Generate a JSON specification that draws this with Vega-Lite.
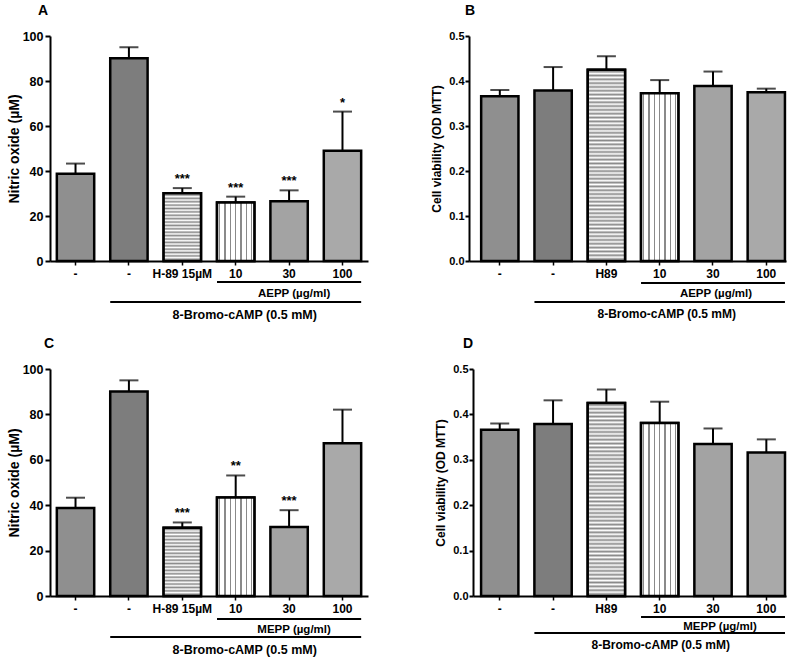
{
  "$schema": "https://vega.github.io/schema/vega-lite/v6.json",
  "background": "white",
  "padding": {"left": 7, "top": 4, "right": 0, "bottom": 0},
  "config": {
    "view": {"stroke": null},
    "font": "Liberation Sans",
    "title": {"fontSize": 14, "fontWeight": "bold", "font": "Liberation Sans", "color": "black"},
    "axis": {"domainColor": "black", "domainWidth": 2, "tickColor": "black", "tickWidth": 2, "tickSize": 5, "labelColor": "black", "labelFontWeight": "bold", "labelFontSize": 12, "labelFont": "Liberation Sans", "titleFont": "Liberation Sans", "titleFontWeight": "bold", "titleColor": "black", "grid": false, "labelPadding": 2, "titlePadding": 1},
    "axisX": {"tickSize": 4, "tickWidth": 1.5, "labelAngle": 0, "labelOverlap": false, "labelBound": false, "labelPadding": 3}
  },
  "datasets": {
    "a": [
      {"c": "1", "v": 38.8, "hi": 43.3, "sig": ""},
      {"c": "2", "v": 90.1, "hi": 95.0, "sig": ""},
      {"c": "3", "v": 30.1, "hi": 32.4, "sig": "***"},
      {"c": "4", "v": 26.0, "hi": 28.6, "sig": "***"},
      {"c": "5", "v": 26.6, "hi": 31.4, "sig": "***"},
      {"c": "6", "v": 49.0, "hi": 66.4, "sig": "*"}
    ],
    "b": [
      {"c": "1", "v": 0.366, "hi": 0.380},
      {"c": "2", "v": 0.379, "hi": 0.431},
      {"c": "3", "v": 0.425, "hi": 0.455},
      {"c": "4", "v": 0.373, "hi": 0.402},
      {"c": "5", "v": 0.389, "hi": 0.421},
      {"c": "6", "v": 0.375, "hi": 0.383}
    ],
    "c": [
      {"c": "1", "v": 38.8, "hi": 43.3, "sig": ""},
      {"c": "2", "v": 90.1, "hi": 95.0, "sig": ""},
      {"c": "3", "v": 30.1, "hi": 32.4, "sig": "***"},
      {"c": "4", "v": 43.4, "hi": 53.1, "sig": "**"},
      {"c": "5", "v": 30.4, "hi": 37.8, "sig": "***"},
      {"c": "6", "v": 67.3, "hi": 82.1, "sig": ""}
    ],
    "d": [
      {"c": "1", "v": 0.366, "hi": 0.380},
      {"c": "2", "v": 0.379, "hi": 0.431},
      {"c": "3", "v": 0.425, "hi": 0.455},
      {"c": "4", "v": 0.381, "hi": 0.428},
      {"c": "5", "v": 0.335, "hi": 0.369},
      {"c": "6", "v": 0.316, "hi": 0.345}
    ],
    "annAEPP": [
      {"level": 1, "from": "4", "to": "6", "mid": "5", "label": "AEPP (µg/ml)"},
      {"level": 2, "from": "2", "to": "6", "mid": "4", "label": "8-Bromo-cAMP (0.5 mM)"}
    ],
    "annMEPP": [
      {"level": 1, "from": "4", "to": "6", "mid": "5", "label": "MEPP (µg/ml)"},
      {"level": 2, "from": "2", "to": "6", "mid": "4", "label": "8-Bromo-cAMP (0.5 mM)"}
    ]
  },
  "spacing": 15,
  "vconcat": [
    {
      "spacing": 62,
      "hconcat": [
        {
          "width": 318, "height": 225,
          "title": {"text": "A", "anchor": "start", "frame": "group", "dx": -12, "offset": 12},
          "resolve": {"scale": {"y": "independent"}},
          "layer": [
            {
              "data": {"name": "a"},
              "encoding": {
                "x": {"field": "c", "type": "nominal", "scale": {"domain": ["1", "2", "3", "4", "5", "6"], "paddingInner": 0.3, "paddingOuter": 0.128}, "axis": {"title": null, "labelFontSize": 12, "labelExpr": "datum.value == '3' ? 'H-89 15µM' : datum.value == '4' ? '10' : datum.value == '5' ? '30' : datum.value == '6' ? '100' : '-'"}},
                "y": {"field": "v", "type": "quantitative", "scale": {"domain": [0, 100], "nice": false}, "axis": {"title": "Nitric oxide (µM)", "values": [0, 20, 40, 60, 80, 100], "titleFontSize": 14, "labelFontSize": 12.5}}
              },
              "layer": [
                {"mark": {"type": "bar", "stroke": "black", "strokeWidth": 2.5}, "encoding": {"fill": {"field": "c", "type": "nominal", "scale": {"domain": ["1", "2", "3", "4", "5", "6"], "range": ["#8f8f8f", "#7d7d7d", "#cfcfcf", "#e0e0e0", "#a3a3a3", "#a9a9a9"]}, "legend": null}}},
                {"transform": [{"filter": "datum.c == '3'"}], "mark": {"type": "bar", "stroke": "black", "strokeWidth": 2.5, "fill": {"gradient": "linear", "x1": 0, "y1": 0, "x2": 0, "y2": 1, "stops": [
                  {"offset": 0, "color": "#ffffff"}, {"offset": 0.025, "color": "#8a8a8a"}, {"offset": 0.05, "color": "#ffffff"}, {"offset": 0.075, "color": "#8a8a8a"},
                  {"offset": 0.1, "color": "#ffffff"}, {"offset": 0.125, "color": "#8a8a8a"}, {"offset": 0.15, "color": "#ffffff"}, {"offset": 0.175, "color": "#8a8a8a"},
                  {"offset": 0.2, "color": "#ffffff"}, {"offset": 0.225, "color": "#8a8a8a"}, {"offset": 0.25, "color": "#ffffff"}, {"offset": 0.275, "color": "#8a8a8a"},
                  {"offset": 0.3, "color": "#ffffff"}, {"offset": 0.325, "color": "#8a8a8a"}, {"offset": 0.35, "color": "#ffffff"}, {"offset": 0.375, "color": "#8a8a8a"},
                  {"offset": 0.4, "color": "#ffffff"}, {"offset": 0.425, "color": "#8a8a8a"}, {"offset": 0.45, "color": "#ffffff"}, {"offset": 0.475, "color": "#8a8a8a"},
                  {"offset": 0.5, "color": "#ffffff"}, {"offset": 0.525, "color": "#8a8a8a"}, {"offset": 0.55, "color": "#ffffff"}, {"offset": 0.575, "color": "#8a8a8a"},
                  {"offset": 0.6, "color": "#ffffff"}, {"offset": 0.625, "color": "#8a8a8a"}, {"offset": 0.65, "color": "#ffffff"}, {"offset": 0.675, "color": "#8a8a8a"},
                  {"offset": 0.7, "color": "#ffffff"}, {"offset": 0.725, "color": "#8a8a8a"}, {"offset": 0.75, "color": "#ffffff"}, {"offset": 0.775, "color": "#8a8a8a"},
                  {"offset": 0.8, "color": "#ffffff"}, {"offset": 0.825, "color": "#8a8a8a"}, {"offset": 0.85, "color": "#ffffff"}, {"offset": 0.875, "color": "#8a8a8a"},
                  {"offset": 0.9, "color": "#ffffff"}, {"offset": 0.925, "color": "#8a8a8a"}, {"offset": 0.95, "color": "#ffffff"}, {"offset": 0.975, "color": "#8a8a8a"},
                  {"offset": 1, "color": "#ffffff"}]}}},
                {"transform": [{"filter": "datum.c == '4'"}], "mark": {"type": "bar", "stroke": "black", "strokeWidth": 2.5, "fill": {"gradient": "linear", "x1": 0, "y1": 0, "x2": 1, "y2": 0, "stops": [
                  {"offset": 0, "color": "#ffffff"}, {"offset": 0.055, "color": "#ffffff"}, {"offset": 0.055, "color": "#8a8a8a"}, {"offset": 0.087, "color": "#8a8a8a"}, {"offset": 0.087, "color": "#ffffff"},
                  {"offset": 0.198, "color": "#ffffff"}, {"offset": 0.198, "color": "#8a8a8a"}, {"offset": 0.23, "color": "#8a8a8a"}, {"offset": 0.23, "color": "#ffffff"},
                  {"offset": 0.341, "color": "#ffffff"}, {"offset": 0.341, "color": "#8a8a8a"}, {"offset": 0.373, "color": "#8a8a8a"}, {"offset": 0.373, "color": "#ffffff"},
                  {"offset": 0.484, "color": "#ffffff"}, {"offset": 0.484, "color": "#8a8a8a"}, {"offset": 0.516, "color": "#8a8a8a"}, {"offset": 0.516, "color": "#ffffff"},
                  {"offset": 0.627, "color": "#ffffff"}, {"offset": 0.627, "color": "#8a8a8a"}, {"offset": 0.659, "color": "#8a8a8a"}, {"offset": 0.659, "color": "#ffffff"},
                  {"offset": 0.77, "color": "#ffffff"}, {"offset": 0.77, "color": "#8a8a8a"}, {"offset": 0.802, "color": "#8a8a8a"}, {"offset": 0.802, "color": "#ffffff"},
                  {"offset": 0.913, "color": "#ffffff"}, {"offset": 0.913, "color": "#8a8a8a"}, {"offset": 0.945, "color": "#8a8a8a"}, {"offset": 0.945, "color": "#ffffff"},
                  {"offset": 1, "color": "#ffffff"}]}}},
                {"mark": {"type": "rule", "strokeWidth": 2, "color": "black"}, "encoding": {"y2": {"field": "hi"}}},
                {"mark": {"type": "tick", "size": 19, "thickness": 2, "color": "black"}, "encoding": {"y": {"field": "hi", "type": "quantitative"}}},
                {"mark": {"type": "text", "fontSize": 13, "fontWeight": "bold", "baseline": "alphabetic", "dy": -5, "color": "black"}, "encoding": {"y": {"field": "hi", "type": "quantitative"}, "text": {"field": "sig"}}}
              ]
            },
            {
              "data": {"name": "annAEPP"},
              "layer": [
                {"mark": {"type": "rule", "strokeWidth": 2, "color": "black"}, "encoding": {"x": {"field": "from", "type": "nominal", "bandPosition": 0}, "x2": {"field": "to", "bandPosition": 1}, "y": {"field": "level", "type": "quantitative", "scale": {"domain": [1, 2], "range": [246, 266], "nice": false, "zero": false}, "axis": null}}},
                {"transform": [{"filter": "datum.level == 1"}], "mark": {"type": "text", "fontSize": 11.5, "fontWeight": "bold", "baseline": "middle", "dy": 12, "dx": 5, "color": "black"}, "encoding": {"x": {"field": "mid", "type": "nominal"}, "y": {"field": "level", "type": "quantitative", "axis": null}, "text": {"field": "label"}}},
                {"transform": [{"filter": "datum.level == 2"}], "mark": {"type": "text", "fontSize": 12.5, "fontWeight": "bold", "baseline": "middle", "dy": 13, "dx": 9, "color": "black"}, "encoding": {"x": {"field": "mid", "type": "nominal"}, "y": {"field": "level", "type": "quantitative", "axis": null}, "text": {"field": "label"}}}
              ]
            }
          ]
        },
        {
          "width": 317, "height": 225,
          "title": {"text": "B", "anchor": "start", "frame": "group", "dx": -4, "offset": 12},
          "resolve": {"scale": {"y": "independent"}},
          "layer": [
            {
              "data": {"name": "b"},
              "encoding": {
                "x": {"field": "c", "type": "nominal", "scale": {"domain": ["1", "2", "3", "4", "5", "6"], "paddingInner": 0.3, "paddingOuter": 0.124, "align": 0.92}, "axis": {"title": null, "labelFontSize": 12, "labelExpr": "datum.value == '3' ? 'H89' : datum.value == '4' ? '10' : datum.value == '5' ? '30' : datum.value == '6' ? '100' : '-'"}},
                "y": {"field": "v", "type": "quantitative", "scale": {"domain": [0, 0.5], "nice": false}, "axis": {"title": "Cell viability (OD MTT)", "values": [0, 0.1, 0.2, 0.3, 0.4, 0.5], "format": ".1f", "titleFontSize": 12, "labelFontSize": 11, "tickSize": 4, "labelPadding": 1, "titlePadding": 5}}
              },
              "layer": [
                {"mark": {"type": "bar", "stroke": "black", "strokeWidth": 2.5}, "encoding": {"fill": {"field": "c", "type": "nominal", "scale": {"domain": ["1", "2", "3", "4", "5", "6"], "range": ["#8f8f8f", "#7d7d7d", "#cfcfcf", "#e0e0e0", "#a3a3a3", "#a9a9a9"]}, "legend": null}}},
                {"transform": [{"filter": "datum.c == '3'"}], "mark": {"type": "bar", "stroke": "black", "strokeWidth": 2.5, "fill": {"gradient": "linear", "x1": 0, "y1": 0, "x2": 0, "y2": 1, "stops": [
                  {"offset": 0, "color": "#ffffff"}, {"offset": 0.01, "color": "#8a8a8a"}, {"offset": 0.02, "color": "#ffffff"}, {"offset": 0.03, "color": "#8a8a8a"}, {"offset": 0.04, "color": "#ffffff"},
                  {"offset": 0.05, "color": "#8a8a8a"}, {"offset": 0.06, "color": "#ffffff"}, {"offset": 0.07, "color": "#8a8a8a"}, {"offset": 0.08, "color": "#ffffff"}, {"offset": 0.09, "color": "#8a8a8a"},
                  {"offset": 0.1, "color": "#ffffff"}, {"offset": 0.11, "color": "#8a8a8a"}, {"offset": 0.12, "color": "#ffffff"}, {"offset": 0.13, "color": "#8a8a8a"}, {"offset": 0.14, "color": "#ffffff"},
                  {"offset": 0.15, "color": "#8a8a8a"}, {"offset": 0.16, "color": "#ffffff"}, {"offset": 0.17, "color": "#8a8a8a"}, {"offset": 0.18, "color": "#ffffff"}, {"offset": 0.19, "color": "#8a8a8a"},
                  {"offset": 0.2, "color": "#ffffff"}, {"offset": 0.21, "color": "#8a8a8a"}, {"offset": 0.22, "color": "#ffffff"}, {"offset": 0.23, "color": "#8a8a8a"}, {"offset": 0.24, "color": "#ffffff"},
                  {"offset": 0.25, "color": "#8a8a8a"}, {"offset": 0.26, "color": "#ffffff"}, {"offset": 0.27, "color": "#8a8a8a"}, {"offset": 0.28, "color": "#ffffff"}, {"offset": 0.29, "color": "#8a8a8a"},
                  {"offset": 0.3, "color": "#ffffff"}, {"offset": 0.31, "color": "#8a8a8a"}, {"offset": 0.32, "color": "#ffffff"}, {"offset": 0.33, "color": "#8a8a8a"}, {"offset": 0.34, "color": "#ffffff"},
                  {"offset": 0.35, "color": "#8a8a8a"}, {"offset": 0.36, "color": "#ffffff"}, {"offset": 0.37, "color": "#8a8a8a"}, {"offset": 0.38, "color": "#ffffff"}, {"offset": 0.39, "color": "#8a8a8a"},
                  {"offset": 0.4, "color": "#ffffff"}, {"offset": 0.41, "color": "#8a8a8a"}, {"offset": 0.42, "color": "#ffffff"}, {"offset": 0.43, "color": "#8a8a8a"}, {"offset": 0.44, "color": "#ffffff"},
                  {"offset": 0.45, "color": "#8a8a8a"}, {"offset": 0.46, "color": "#ffffff"}, {"offset": 0.47, "color": "#8a8a8a"}, {"offset": 0.48, "color": "#ffffff"}, {"offset": 0.49, "color": "#8a8a8a"},
                  {"offset": 0.5, "color": "#ffffff"}, {"offset": 0.51, "color": "#8a8a8a"}, {"offset": 0.52, "color": "#ffffff"}, {"offset": 0.53, "color": "#8a8a8a"}, {"offset": 0.54, "color": "#ffffff"},
                  {"offset": 0.55, "color": "#8a8a8a"}, {"offset": 0.56, "color": "#ffffff"}, {"offset": 0.57, "color": "#8a8a8a"}, {"offset": 0.58, "color": "#ffffff"}, {"offset": 0.59, "color": "#8a8a8a"},
                  {"offset": 0.6, "color": "#ffffff"}, {"offset": 0.61, "color": "#8a8a8a"}, {"offset": 0.62, "color": "#ffffff"}, {"offset": 0.63, "color": "#8a8a8a"}, {"offset": 0.64, "color": "#ffffff"},
                  {"offset": 0.65, "color": "#8a8a8a"}, {"offset": 0.66, "color": "#ffffff"}, {"offset": 0.67, "color": "#8a8a8a"}, {"offset": 0.68, "color": "#ffffff"}, {"offset": 0.69, "color": "#8a8a8a"},
                  {"offset": 0.7, "color": "#ffffff"}, {"offset": 0.71, "color": "#8a8a8a"}, {"offset": 0.72, "color": "#ffffff"}, {"offset": 0.73, "color": "#8a8a8a"}, {"offset": 0.74, "color": "#ffffff"},
                  {"offset": 0.75, "color": "#8a8a8a"}, {"offset": 0.76, "color": "#ffffff"}, {"offset": 0.77, "color": "#8a8a8a"}, {"offset": 0.78, "color": "#ffffff"}, {"offset": 0.79, "color": "#8a8a8a"},
                  {"offset": 0.8, "color": "#ffffff"}, {"offset": 0.81, "color": "#8a8a8a"}, {"offset": 0.82, "color": "#ffffff"}, {"offset": 0.83, "color": "#8a8a8a"}, {"offset": 0.84, "color": "#ffffff"},
                  {"offset": 0.85, "color": "#8a8a8a"}, {"offset": 0.86, "color": "#ffffff"}, {"offset": 0.87, "color": "#8a8a8a"}, {"offset": 0.88, "color": "#ffffff"}, {"offset": 0.89, "color": "#8a8a8a"},
                  {"offset": 0.9, "color": "#ffffff"}, {"offset": 0.91, "color": "#8a8a8a"}, {"offset": 0.92, "color": "#ffffff"}, {"offset": 0.93, "color": "#8a8a8a"}, {"offset": 0.94, "color": "#ffffff"},
                  {"offset": 0.95, "color": "#8a8a8a"}, {"offset": 0.96, "color": "#ffffff"}, {"offset": 0.97, "color": "#8a8a8a"}, {"offset": 0.98, "color": "#ffffff"}, {"offset": 0.99, "color": "#8a8a8a"},
                  {"offset": 1, "color": "#ffffff"}]}}},
                {"transform": [{"filter": "datum.c == '4'"}], "mark": {"type": "bar", "stroke": "black", "strokeWidth": 2.5, "fill": {"gradient": "linear", "x1": 0, "y1": 0, "x2": 1, "y2": 0, "stops": [
                  {"offset": 0, "color": "#ffffff"}, {"offset": 0.055, "color": "#ffffff"}, {"offset": 0.055, "color": "#8a8a8a"}, {"offset": 0.087, "color": "#8a8a8a"}, {"offset": 0.087, "color": "#ffffff"},
                  {"offset": 0.198, "color": "#ffffff"}, {"offset": 0.198, "color": "#8a8a8a"}, {"offset": 0.23, "color": "#8a8a8a"}, {"offset": 0.23, "color": "#ffffff"},
                  {"offset": 0.341, "color": "#ffffff"}, {"offset": 0.341, "color": "#8a8a8a"}, {"offset": 0.373, "color": "#8a8a8a"}, {"offset": 0.373, "color": "#ffffff"},
                  {"offset": 0.484, "color": "#ffffff"}, {"offset": 0.484, "color": "#8a8a8a"}, {"offset": 0.516, "color": "#8a8a8a"}, {"offset": 0.516, "color": "#ffffff"},
                  {"offset": 0.627, "color": "#ffffff"}, {"offset": 0.627, "color": "#8a8a8a"}, {"offset": 0.659, "color": "#8a8a8a"}, {"offset": 0.659, "color": "#ffffff"},
                  {"offset": 0.77, "color": "#ffffff"}, {"offset": 0.77, "color": "#8a8a8a"}, {"offset": 0.802, "color": "#8a8a8a"}, {"offset": 0.802, "color": "#ffffff"},
                  {"offset": 0.913, "color": "#ffffff"}, {"offset": 0.913, "color": "#8a8a8a"}, {"offset": 0.945, "color": "#8a8a8a"}, {"offset": 0.945, "color": "#ffffff"},
                  {"offset": 1, "color": "#ffffff"}]}}},
                {"mark": {"type": "rule", "strokeWidth": 2, "color": "black"}, "encoding": {"y2": {"field": "hi"}}},
                {"mark": {"type": "tick", "size": 19, "thickness": 2, "color": "black"}, "encoding": {"y": {"field": "hi", "type": "quantitative"}}}
              ]
            },
            {
              "data": {"name": "annAEPP"},
              "layer": [
                {"mark": {"type": "rule", "strokeWidth": 2, "color": "black"}, "encoding": {"x": {"field": "from", "type": "nominal", "bandPosition": 0}, "x2": {"field": "to", "bandPosition": 1}, "y": {"field": "level", "type": "quantitative", "scale": {"domain": [1, 2], "range": [247, 266], "nice": false, "zero": false}, "axis": null}}},
                {"transform": [{"filter": "datum.level == 1"}], "mark": {"type": "text", "fontSize": 11.5, "fontWeight": "bold", "baseline": "middle", "dy": 11, "dx": 3, "color": "black"}, "encoding": {"x": {"field": "mid", "type": "nominal"}, "y": {"field": "level", "type": "quantitative", "axis": null}, "text": {"field": "label"}}},
                {"transform": [{"filter": "datum.level == 2"}], "mark": {"type": "text", "fontSize": 12, "fontWeight": "bold", "baseline": "middle", "dy": 12, "dx": 7, "color": "black"}, "encoding": {"x": {"field": "mid", "type": "nominal"}, "y": {"field": "level", "type": "quantitative", "axis": null}, "text": {"field": "label"}}}
              ]
            }
          ]
        }
      ]
    },
    {
      "spacing": 66,
      "hconcat": [
        {
          "width": 318, "height": 227,
          "title": {"text": "C", "anchor": "start", "frame": "group", "dx": -6, "offset": 12},
          "resolve": {"scale": {"y": "independent"}},
          "layer": [
            {
              "data": {"name": "c"},
              "encoding": {
                "x": {"field": "c", "type": "nominal", "scale": {"domain": ["1", "2", "3", "4", "5", "6"], "paddingInner": 0.3, "paddingOuter": 0.128}, "axis": {"title": null, "labelFontSize": 12, "labelExpr": "datum.value == '3' ? 'H-89 15µM' : datum.value == '4' ? '10' : datum.value == '5' ? '30' : datum.value == '6' ? '100' : '-'"}},
                "y": {"field": "v", "type": "quantitative", "scale": {"domain": [0, 100], "nice": false}, "axis": {"title": "Nitric oxide (µM)", "values": [0, 20, 40, 60, 80, 100], "titleFontSize": 14, "labelFontSize": 12.5}}
              },
              "layer": [
                {"mark": {"type": "bar", "stroke": "black", "strokeWidth": 2.5}, "encoding": {"fill": {"field": "c", "type": "nominal", "scale": {"domain": ["1", "2", "3", "4", "5", "6"], "range": ["#8f8f8f", "#7d7d7d", "#cfcfcf", "#e0e0e0", "#a3a3a3", "#a9a9a9"]}, "legend": null}}},
                {"transform": [{"filter": "datum.c == '3'"}], "mark": {"type": "bar", "stroke": "black", "strokeWidth": 2.5, "fill": {"gradient": "linear", "x1": 0, "y1": 0, "x2": 0, "y2": 1, "stops": [
                  {"offset": 0, "color": "#ffffff"}, {"offset": 0.025, "color": "#8a8a8a"}, {"offset": 0.05, "color": "#ffffff"}, {"offset": 0.075, "color": "#8a8a8a"},
                  {"offset": 0.1, "color": "#ffffff"}, {"offset": 0.125, "color": "#8a8a8a"}, {"offset": 0.15, "color": "#ffffff"}, {"offset": 0.175, "color": "#8a8a8a"},
                  {"offset": 0.2, "color": "#ffffff"}, {"offset": 0.225, "color": "#8a8a8a"}, {"offset": 0.25, "color": "#ffffff"}, {"offset": 0.275, "color": "#8a8a8a"},
                  {"offset": 0.3, "color": "#ffffff"}, {"offset": 0.325, "color": "#8a8a8a"}, {"offset": 0.35, "color": "#ffffff"}, {"offset": 0.375, "color": "#8a8a8a"},
                  {"offset": 0.4, "color": "#ffffff"}, {"offset": 0.425, "color": "#8a8a8a"}, {"offset": 0.45, "color": "#ffffff"}, {"offset": 0.475, "color": "#8a8a8a"},
                  {"offset": 0.5, "color": "#ffffff"}, {"offset": 0.525, "color": "#8a8a8a"}, {"offset": 0.55, "color": "#ffffff"}, {"offset": 0.575, "color": "#8a8a8a"},
                  {"offset": 0.6, "color": "#ffffff"}, {"offset": 0.625, "color": "#8a8a8a"}, {"offset": 0.65, "color": "#ffffff"}, {"offset": 0.675, "color": "#8a8a8a"},
                  {"offset": 0.7, "color": "#ffffff"}, {"offset": 0.725, "color": "#8a8a8a"}, {"offset": 0.75, "color": "#ffffff"}, {"offset": 0.775, "color": "#8a8a8a"},
                  {"offset": 0.8, "color": "#ffffff"}, {"offset": 0.825, "color": "#8a8a8a"}, {"offset": 0.85, "color": "#ffffff"}, {"offset": 0.875, "color": "#8a8a8a"},
                  {"offset": 0.9, "color": "#ffffff"}, {"offset": 0.925, "color": "#8a8a8a"}, {"offset": 0.95, "color": "#ffffff"}, {"offset": 0.975, "color": "#8a8a8a"},
                  {"offset": 1, "color": "#ffffff"}]}}},
                {"transform": [{"filter": "datum.c == '4'"}], "mark": {"type": "bar", "stroke": "black", "strokeWidth": 2.5, "fill": {"gradient": "linear", "x1": 0, "y1": 0, "x2": 1, "y2": 0, "stops": [
                  {"offset": 0, "color": "#ffffff"}, {"offset": 0.055, "color": "#ffffff"}, {"offset": 0.055, "color": "#8a8a8a"}, {"offset": 0.087, "color": "#8a8a8a"}, {"offset": 0.087, "color": "#ffffff"},
                  {"offset": 0.198, "color": "#ffffff"}, {"offset": 0.198, "color": "#8a8a8a"}, {"offset": 0.23, "color": "#8a8a8a"}, {"offset": 0.23, "color": "#ffffff"},
                  {"offset": 0.341, "color": "#ffffff"}, {"offset": 0.341, "color": "#8a8a8a"}, {"offset": 0.373, "color": "#8a8a8a"}, {"offset": 0.373, "color": "#ffffff"},
                  {"offset": 0.484, "color": "#ffffff"}, {"offset": 0.484, "color": "#8a8a8a"}, {"offset": 0.516, "color": "#8a8a8a"}, {"offset": 0.516, "color": "#ffffff"},
                  {"offset": 0.627, "color": "#ffffff"}, {"offset": 0.627, "color": "#8a8a8a"}, {"offset": 0.659, "color": "#8a8a8a"}, {"offset": 0.659, "color": "#ffffff"},
                  {"offset": 0.77, "color": "#ffffff"}, {"offset": 0.77, "color": "#8a8a8a"}, {"offset": 0.802, "color": "#8a8a8a"}, {"offset": 0.802, "color": "#ffffff"},
                  {"offset": 0.913, "color": "#ffffff"}, {"offset": 0.913, "color": "#8a8a8a"}, {"offset": 0.945, "color": "#8a8a8a"}, {"offset": 0.945, "color": "#ffffff"},
                  {"offset": 1, "color": "#ffffff"}]}}},
                {"mark": {"type": "rule", "strokeWidth": 2, "color": "black"}, "encoding": {"y2": {"field": "hi"}}},
                {"mark": {"type": "tick", "size": 19, "thickness": 2, "color": "black"}, "encoding": {"y": {"field": "hi", "type": "quantitative"}}},
                {"mark": {"type": "text", "fontSize": 13, "fontWeight": "bold", "baseline": "alphabetic", "dy": -5, "color": "black"}, "encoding": {"y": {"field": "hi", "type": "quantitative"}, "text": {"field": "sig"}}}
              ]
            },
            {
              "data": {"name": "annMEPP"},
              "layer": [
                {"mark": {"type": "rule", "strokeWidth": 2, "color": "black"}, "encoding": {"x": {"field": "from", "type": "nominal", "bandPosition": 0}, "x2": {"field": "to", "bandPosition": 1}, "y": {"field": "level", "type": "quantitative", "scale": {"domain": [1, 2], "range": [250, 268], "nice": false, "zero": false}, "axis": null}}},
                {"transform": [{"filter": "datum.level == 1"}], "mark": {"type": "text", "fontSize": 11.5, "fontWeight": "bold", "baseline": "middle", "dy": 11, "dx": 5, "color": "black"}, "encoding": {"x": {"field": "mid", "type": "nominal"}, "y": {"field": "level", "type": "quantitative", "axis": null}, "text": {"field": "label"}}},
                {"transform": [{"filter": "datum.level == 2"}], "mark": {"type": "text", "fontSize": 12.5, "fontWeight": "bold", "baseline": "middle", "dy": 13, "dx": 9, "color": "black"}, "encoding": {"x": {"field": "mid", "type": "nominal"}, "y": {"field": "level", "type": "quantitative", "axis": null}, "text": {"field": "label"}}}
              ]
            }
          ]
        },
        {
          "width": 313, "height": 227,
          "title": {"text": "D", "anchor": "start", "frame": "group", "dx": -10, "offset": 12},
          "resolve": {"scale": {"y": "independent"}},
          "layer": [
            {
              "data": {"name": "d"},
              "encoding": {
                "x": {"field": "c", "type": "nominal", "scale": {"domain": ["1", "2", "3", "4", "5", "6"], "paddingInner": 0.3, "paddingOuter": 0.085, "align": 0.89}, "axis": {"title": null, "labelFontSize": 12, "labelExpr": "datum.value == '3' ? 'H89' : datum.value == '4' ? '10' : datum.value == '5' ? '30' : datum.value == '6' ? '100' : '-'"}},
                "y": {"field": "v", "type": "quantitative", "scale": {"domain": [0, 0.5], "nice": false}, "axis": {"title": "Cell viability (OD MTT)", "values": [0, 0.1, 0.2, 0.3, 0.4, 0.5], "format": ".1f", "titleFontSize": 12, "labelFontSize": 11, "tickSize": 4, "labelPadding": 1, "titlePadding": 5}}
              },
              "layer": [
                {"mark": {"type": "bar", "stroke": "black", "strokeWidth": 2.5}, "encoding": {"fill": {"field": "c", "type": "nominal", "scale": {"domain": ["1", "2", "3", "4", "5", "6"], "range": ["#8f8f8f", "#7d7d7d", "#cfcfcf", "#e0e0e0", "#a3a3a3", "#a9a9a9"]}, "legend": null}}},
                {"transform": [{"filter": "datum.c == '3'"}], "mark": {"type": "bar", "stroke": "black", "strokeWidth": 2.5, "fill": {"gradient": "linear", "x1": 0, "y1": 0, "x2": 0, "y2": 1, "stops": [
                  {"offset": 0, "color": "#ffffff"}, {"offset": 0.01, "color": "#8a8a8a"}, {"offset": 0.02, "color": "#ffffff"}, {"offset": 0.03, "color": "#8a8a8a"}, {"offset": 0.04, "color": "#ffffff"},
                  {"offset": 0.05, "color": "#8a8a8a"}, {"offset": 0.06, "color": "#ffffff"}, {"offset": 0.07, "color": "#8a8a8a"}, {"offset": 0.08, "color": "#ffffff"}, {"offset": 0.09, "color": "#8a8a8a"},
                  {"offset": 0.1, "color": "#ffffff"}, {"offset": 0.11, "color": "#8a8a8a"}, {"offset": 0.12, "color": "#ffffff"}, {"offset": 0.13, "color": "#8a8a8a"}, {"offset": 0.14, "color": "#ffffff"},
                  {"offset": 0.15, "color": "#8a8a8a"}, {"offset": 0.16, "color": "#ffffff"}, {"offset": 0.17, "color": "#8a8a8a"}, {"offset": 0.18, "color": "#ffffff"}, {"offset": 0.19, "color": "#8a8a8a"},
                  {"offset": 0.2, "color": "#ffffff"}, {"offset": 0.21, "color": "#8a8a8a"}, {"offset": 0.22, "color": "#ffffff"}, {"offset": 0.23, "color": "#8a8a8a"}, {"offset": 0.24, "color": "#ffffff"},
                  {"offset": 0.25, "color": "#8a8a8a"}, {"offset": 0.26, "color": "#ffffff"}, {"offset": 0.27, "color": "#8a8a8a"}, {"offset": 0.28, "color": "#ffffff"}, {"offset": 0.29, "color": "#8a8a8a"},
                  {"offset": 0.3, "color": "#ffffff"}, {"offset": 0.31, "color": "#8a8a8a"}, {"offset": 0.32, "color": "#ffffff"}, {"offset": 0.33, "color": "#8a8a8a"}, {"offset": 0.34, "color": "#ffffff"},
                  {"offset": 0.35, "color": "#8a8a8a"}, {"offset": 0.36, "color": "#ffffff"}, {"offset": 0.37, "color": "#8a8a8a"}, {"offset": 0.38, "color": "#ffffff"}, {"offset": 0.39, "color": "#8a8a8a"},
                  {"offset": 0.4, "color": "#ffffff"}, {"offset": 0.41, "color": "#8a8a8a"}, {"offset": 0.42, "color": "#ffffff"}, {"offset": 0.43, "color": "#8a8a8a"}, {"offset": 0.44, "color": "#ffffff"},
                  {"offset": 0.45, "color": "#8a8a8a"}, {"offset": 0.46, "color": "#ffffff"}, {"offset": 0.47, "color": "#8a8a8a"}, {"offset": 0.48, "color": "#ffffff"}, {"offset": 0.49, "color": "#8a8a8a"},
                  {"offset": 0.5, "color": "#ffffff"}, {"offset": 0.51, "color": "#8a8a8a"}, {"offset": 0.52, "color": "#ffffff"}, {"offset": 0.53, "color": "#8a8a8a"}, {"offset": 0.54, "color": "#ffffff"},
                  {"offset": 0.55, "color": "#8a8a8a"}, {"offset": 0.56, "color": "#ffffff"}, {"offset": 0.57, "color": "#8a8a8a"}, {"offset": 0.58, "color": "#ffffff"}, {"offset": 0.59, "color": "#8a8a8a"},
                  {"offset": 0.6, "color": "#ffffff"}, {"offset": 0.61, "color": "#8a8a8a"}, {"offset": 0.62, "color": "#ffffff"}, {"offset": 0.63, "color": "#8a8a8a"}, {"offset": 0.64, "color": "#ffffff"},
                  {"offset": 0.65, "color": "#8a8a8a"}, {"offset": 0.66, "color": "#ffffff"}, {"offset": 0.67, "color": "#8a8a8a"}, {"offset": 0.68, "color": "#ffffff"}, {"offset": 0.69, "color": "#8a8a8a"},
                  {"offset": 0.7, "color": "#ffffff"}, {"offset": 0.71, "color": "#8a8a8a"}, {"offset": 0.72, "color": "#ffffff"}, {"offset": 0.73, "color": "#8a8a8a"}, {"offset": 0.74, "color": "#ffffff"},
                  {"offset": 0.75, "color": "#8a8a8a"}, {"offset": 0.76, "color": "#ffffff"}, {"offset": 0.77, "color": "#8a8a8a"}, {"offset": 0.78, "color": "#ffffff"}, {"offset": 0.79, "color": "#8a8a8a"},
                  {"offset": 0.8, "color": "#ffffff"}, {"offset": 0.81, "color": "#8a8a8a"}, {"offset": 0.82, "color": "#ffffff"}, {"offset": 0.83, "color": "#8a8a8a"}, {"offset": 0.84, "color": "#ffffff"},
                  {"offset": 0.85, "color": "#8a8a8a"}, {"offset": 0.86, "color": "#ffffff"}, {"offset": 0.87, "color": "#8a8a8a"}, {"offset": 0.88, "color": "#ffffff"}, {"offset": 0.89, "color": "#8a8a8a"},
                  {"offset": 0.9, "color": "#ffffff"}, {"offset": 0.91, "color": "#8a8a8a"}, {"offset": 0.92, "color": "#ffffff"}, {"offset": 0.93, "color": "#8a8a8a"}, {"offset": 0.94, "color": "#ffffff"},
                  {"offset": 0.95, "color": "#8a8a8a"}, {"offset": 0.96, "color": "#ffffff"}, {"offset": 0.97, "color": "#8a8a8a"}, {"offset": 0.98, "color": "#ffffff"}, {"offset": 0.99, "color": "#8a8a8a"},
                  {"offset": 1, "color": "#ffffff"}]}}},
                {"transform": [{"filter": "datum.c == '4'"}], "mark": {"type": "bar", "stroke": "black", "strokeWidth": 2.5, "fill": {"gradient": "linear", "x1": 0, "y1": 0, "x2": 1, "y2": 0, "stops": [
                  {"offset": 0, "color": "#ffffff"}, {"offset": 0.055, "color": "#ffffff"}, {"offset": 0.055, "color": "#8a8a8a"}, {"offset": 0.087, "color": "#8a8a8a"}, {"offset": 0.087, "color": "#ffffff"},
                  {"offset": 0.198, "color": "#ffffff"}, {"offset": 0.198, "color": "#8a8a8a"}, {"offset": 0.23, "color": "#8a8a8a"}, {"offset": 0.23, "color": "#ffffff"},
                  {"offset": 0.341, "color": "#ffffff"}, {"offset": 0.341, "color": "#8a8a8a"}, {"offset": 0.373, "color": "#8a8a8a"}, {"offset": 0.373, "color": "#ffffff"},
                  {"offset": 0.484, "color": "#ffffff"}, {"offset": 0.484, "color": "#8a8a8a"}, {"offset": 0.516, "color": "#8a8a8a"}, {"offset": 0.516, "color": "#ffffff"},
                  {"offset": 0.627, "color": "#ffffff"}, {"offset": 0.627, "color": "#8a8a8a"}, {"offset": 0.659, "color": "#8a8a8a"}, {"offset": 0.659, "color": "#ffffff"},
                  {"offset": 0.77, "color": "#ffffff"}, {"offset": 0.77, "color": "#8a8a8a"}, {"offset": 0.802, "color": "#8a8a8a"}, {"offset": 0.802, "color": "#ffffff"},
                  {"offset": 0.913, "color": "#ffffff"}, {"offset": 0.913, "color": "#8a8a8a"}, {"offset": 0.945, "color": "#8a8a8a"}, {"offset": 0.945, "color": "#ffffff"},
                  {"offset": 1, "color": "#ffffff"}]}}},
                {"mark": {"type": "rule", "strokeWidth": 2, "color": "black"}, "encoding": {"y2": {"field": "hi"}}},
                {"mark": {"type": "tick", "size": 19, "thickness": 2, "color": "black"}, "encoding": {"y": {"field": "hi", "type": "quantitative"}}}
              ]
            },
            {
              "data": {"name": "annMEPP"},
              "layer": [
                {"mark": {"type": "rule", "strokeWidth": 2, "color": "black"}, "encoding": {"x": {"field": "from", "type": "nominal", "bandPosition": 0}, "x2": {"field": "to", "bandPosition": 1}, "y": {"field": "level", "type": "quantitative", "scale": {"domain": [1, 2], "range": [248, 264], "nice": false, "zero": false}, "axis": null}}},
                {"transform": [{"filter": "datum.level == 1"}], "mark": {"type": "text", "fontSize": 11.5, "fontWeight": "bold", "baseline": "middle", "dy": 10, "dx": 7, "color": "black"}, "encoding": {"x": {"field": "mid", "type": "nominal"}, "y": {"field": "level", "type": "quantitative", "axis": null}, "text": {"field": "label"}}},
                {"transform": [{"filter": "datum.level == 2"}], "mark": {"type": "text", "fontSize": 12, "fontWeight": "bold", "baseline": "middle", "dy": 12, "dx": 1, "color": "black"}, "encoding": {"x": {"field": "mid", "type": "nominal"}, "y": {"field": "level", "type": "quantitative", "axis": null}, "text": {"field": "label"}}}
              ]
            }
          ]
        }
      ]
    }
  ]
}
